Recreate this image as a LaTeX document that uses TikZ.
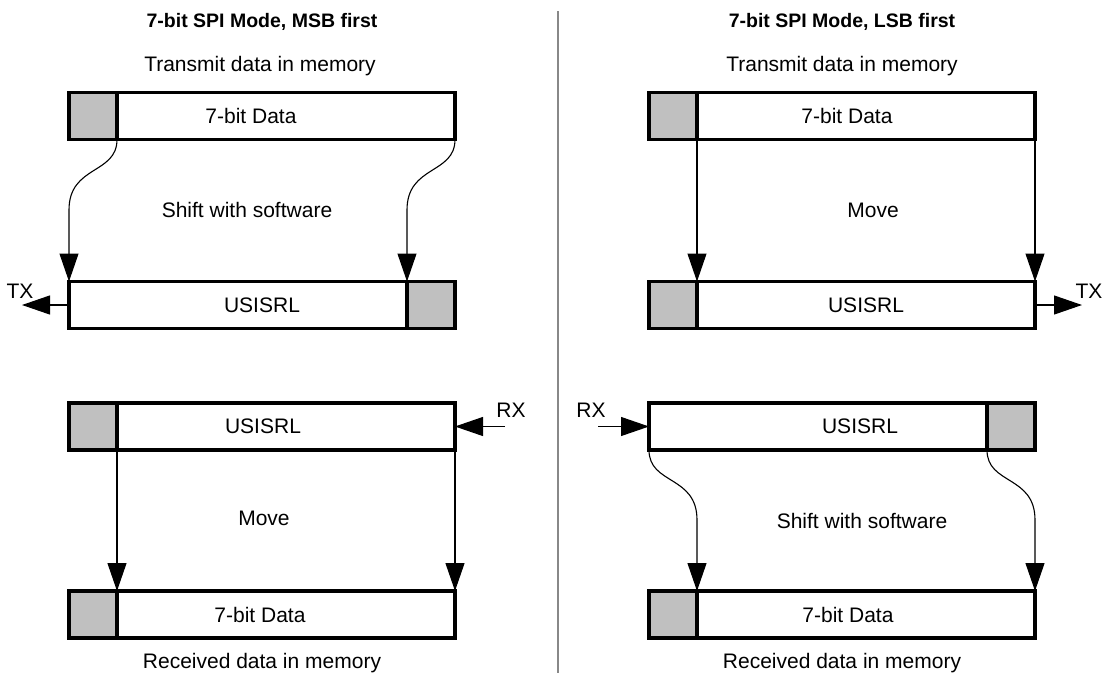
\documentclass[tikz,border=0pt]{standalone}
\usepackage{fontspec}
\setmainfont{Liberation Sans}
\usetikzlibrary{arrows.meta}
\definecolor{cellgray}{HTML}{C0C0C0}
\definecolor{divgray}{HTML}{888888}
\begin{document}
\begin{tikzpicture}[x=1pt,y=-1pt,
  reg/.style={draw, line width=3.8pt, fill=white, minimum width=386pt, minimum height=47pt, inner sep=0pt, outer sep=0pt},
  cell/.style={draw, line width=3.8pt, fill=cellgray, minimum width=48pt, minimum height=47pt, inner sep=0pt, outer sep=0pt},
  lbl/.style={inner sep=0pt, font=\fontsize{21}{25}\selectfont},
  ttl/.style={inner sep=0pt, font=\fontsize{19.5}{23}\selectfont\bfseries},
  conn/.style={line width=1.1pt, -{Triangle[length=28pt,width=19pt]}},
  plain/.style={line width=1pt}]
\useasboundingbox (0,0) rectangle (1102,683);

% divider
\draw[divgray, line width=1.5pt] (558,11) -- (558,673);

% ---------------- left panel ----------------
\node[ttl] (lt) at (262,22) {7-bit SPI Mode, MSB first};
\node[lbl] (ltx) at (260,66) {Transmit data in memory};

\node[reg] (l1) at (262,116) {};
\node[cell, anchor=west] (l1g) at (l1.west) {};
\node[lbl] (l1t) at (251,116) {7-bit Data};

\node[reg] (l2) at (262,305) {};
\node[cell, anchor=east] (l2g) at (l2.east) {};
\node[lbl] (l2t) at (262,305) {USISRL};

\node[lbl] (lsh) at (247,210) {Shift with software};

\draw[conn] (l1g.south east) .. controls +(0,35) and +(0,-45) .. (l2.north west |- 0,210) -- (l2.north west);
\draw[conn] (l1.south east) .. controls +(0,35) and +(0,-45) .. (l2g.north west |- 0,210) -- (l2g.north west);

\coordinate (txl) at (22,305);
\draw[conn] (l2.west) -- (txl);
\node[lbl] (txlt) at (20,291) {TX};

\node[reg] (l3) at (262,426.5) {};
\node[cell, anchor=west] (l3g) at (l3.west) {};
\node[lbl] (l3t) at (263,426.5) {USISRL};

\coordinate (rxl) at (505,426.5);
\draw[conn] (rxl) -- (l3.east);
\node[lbl] (rxlt) at (511,410) {RX};

\node[lbl] (lmv) at (264,518) {Move};

\node[reg] (l4) at (262,614.5) {};
\node[cell, anchor=west] (l4g) at (l4.west) {};
\node[lbl] (l4t) at (260,614.5) {7-bit Data};

\draw[conn] (l3g.south east) -- (l4g.north east);
\draw[conn] (l3.south east) -- (l4.north east);

\node[lbl] (lrx) at (262,663) {Received data in memory};

% ---------------- right panel ----------------
\node[ttl] (rt) at (842,22) {7-bit SPI Mode, LSB first};
\node[lbl] (rtx) at (842,66) {Transmit data in memory};

\node[reg] (r1) at (842,116) {};
\node[cell, anchor=west] (r1g) at (r1.west) {};
\node[lbl] (r1t) at (847,116) {7-bit Data};

\node[lbl] (rmv) at (873,210) {Move};

\node[reg] (r2) at (842,305) {};
\node[cell, anchor=west] (r2g) at (r2.west) {};
\node[lbl] (r2t) at (866,305) {USISRL};

\draw[conn] (r1g.south east) -- (r2g.north east);
\draw[conn] (r1.south east) -- (r2.north east);

\coordinate (txr) at (1082,305);
\draw[conn] (r2.east) -- (txr);
\node[lbl] (txrt) at (1089,291) {TX};

\node[reg] (r3) at (842,426.5) {};
\node[cell, anchor=east] (r3g) at (r3.east) {};
\node[lbl] (r3t) at (860,426.5) {USISRL};

\coordinate (rxr) at (598,426.5);
\draw[conn] (rxr) -- (r3.west);
\node[lbl] (rxrt) at (591,410) {RX};

\node[lbl] (rsh) at (862,521) {Shift with software};

\node[reg] (r4) at (842,614.5) {};
\node[cell, anchor=west] (r4g) at (r4.west) {};
\node[lbl] (r4t) at (848,614.5) {7-bit Data};

\draw[conn] (r3.south west) .. controls +(0,35) and +(0,-45) .. (r4g.north east |- 0,520) -- (r4g.north east);
\draw[conn] (r3g.south west) .. controls +(0,35) and +(0,-45) .. (r4.north east |- 0,520) -- (r4.north east);

\node[lbl] (rrx) at (842,663) {Received data in memory};
\end{tikzpicture}
\end{document}
